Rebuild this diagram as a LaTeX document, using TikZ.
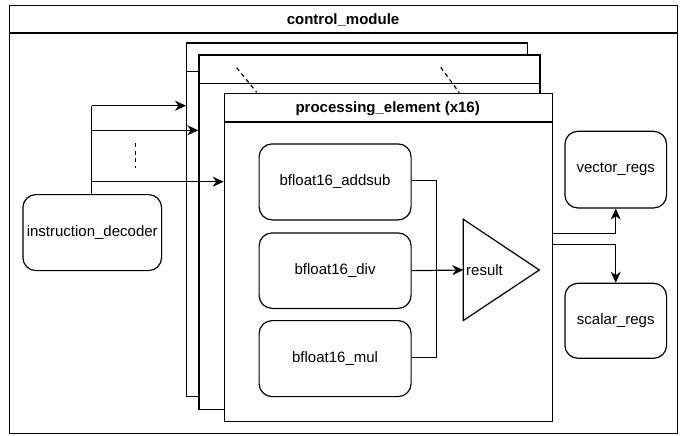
\documentclass[tikz,border=0pt]{standalone}
\usepackage{fontspec}
\setmainfont{Liberation Sans}
\usetikzlibrary{arrows.meta}
\begin{document}
\begin{tikzpicture}[x=1pt,y=-1pt,
  every node/.style={font=\fontsize{15}{18}\selectfont, inner sep=0pt},
  frame/.style={draw=black, line width=1.2pt, fill=white, anchor=north west},
  rbox/.style={draw=black, line width=1.2pt, fill=white, rounded corners=13pt, anchor=north west, align=center},
  conn/.style={draw=black, line width=1.2pt},
  arr/.style={conn, -{Stealth[length=11pt,width=10pt,inset=3.5pt]}},
  dots/.style={draw=black, line width=1.2pt, dash pattern=on 4pt off 3.5pt},
  title/.style={font=\bfseries\fontsize{15}{18}\selectfont}
]
\useasboundingbox (0,0) rectangle (688,436);
% outer container
\node[frame, minimum width=668pt, minimum height=428pt] (outer) at (9,5) {};
\draw[conn] ([yshift=-28pt]outer.north west) -- ([yshift=-28pt]outer.north east);
\node[title] (outertitle) at (343,19.5) {control\_module};

% stacked processing elements
\node[frame, minimum width=341pt, minimum height=353.5pt] (pe1) at (186,42.5) {};
\draw[conn] ([yshift=-29pt]pe1.north west) -- ([yshift=-29pt]pe1.north east);
\node[frame, minimum width=341pt, minimum height=354pt] (pe2) at (198.3,54.5) {};
\draw[conn] ([yshift=-29pt]pe2.north west) -- ([yshift=-29pt]pe2.north east);
\draw[dots] (236.7,67.7) -- (256.7,92.3);
\draw[dots] (440.7,67.3) -- (459.3,92.7);
\node[frame, minimum width=328pt, minimum height=328.5pt] (pe3) at (223.7,92.5) {};
\draw[conn] ([yshift=-29.5pt]pe3.north west) -- ([yshift=-29.5pt]pe3.north east);
\node[title] (petitle) at (387.7,108.5) {processing\_element (x16)};

% instruction decoder
\node[rbox, minimum width=138.7pt, minimum height=76pt] (dec) at (22.3,194) {instruction\_decoder};
\coordinate (split) at (91.7,105.7);
\coordinate (s2) at (91.7,130.3);
\coordinate (s3) at (91.7,181.7);
\draw[conn] (dec.north -| split) -- (split);
\draw[arr] (split) -- (split -| pe1.west);
\draw[arr] (s2) -- (s2 -| pe2.west);
\draw[arr] (s3) -- (s3 -| pe3.west);
\draw[dots] (135.7,143) -- (135.7,168);

% functional units
\node[rbox, minimum width=152pt, minimum height=76pt] (add) at (258.5,143.3) {bfloat16\_addsub};
\node[rbox, minimum width=152pt, minimum height=75.5pt] (div) at (258.5,232.3) {bfloat16\_div};
\node[rbox, minimum width=152pt, minimum height=76pt] (mul) at (258.5,320) {bfloat16\_mul};

% result triangle
\coordinate (trileft) at (463.3,270);
\draw[conn, line join=miter] (463.3,219.3) -- (539.3,270) -- (463.3,320.5) -- cycle;
\node[anchor=west] (res) at (466,270) {result};

\coordinate (jn) at (436.7,270);
\draw[conn] (add.east |- 0,180.7) -| (jn);
\draw[conn] (mul.east |- 0,357.3) -| (jn);
\draw[arr] (div.east) -- (trileft);

% registers
\node[rbox, minimum width=101.7pt, minimum height=76.7pt] (vec) at (564.3,130.7) {vector\_regs};
\node[rbox, minimum width=101.7pt, minimum height=75pt] (sca) at (564.3,282.7) {scalar\_regs};
\coordinate (o1) at (551.7,233.3);
\coordinate (o2) at (551.7,244.3);
\draw[arr] (o1) -| (vec.south);
\draw[arr] (o2) -| (sca.north);
\end{tikzpicture}
\end{document}
